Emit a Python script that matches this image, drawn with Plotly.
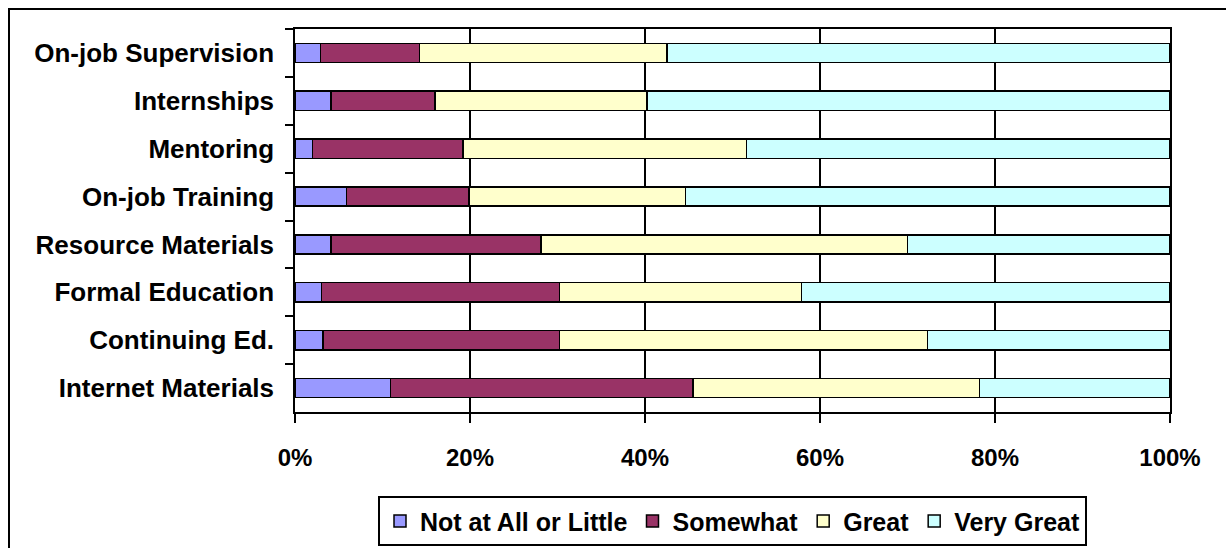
import plotly.graph_objects as go

categories = ["On-job Supervision", "Internships", "Mentoring", "On-job Training",
              "Resource Materials", "Formal Education", "Continuing Ed.", "Internet Materials"]
not_at_all = [2.9, 4.1, 2.0, 5.9, 4.1, 3.0, 3.2, 10.9]
somewhat = [11.3, 11.9, 17.2, 14.0, 24.0, 27.2, 27.0, 34.6]
great = [28.3, 24.2, 32.4, 24.7, 41.9, 27.7, 42.1, 32.7]
very_great = [57.5, 59.8, 48.4, 55.4, 30.0, 42.1, 27.7, 21.8]
series_names = ["Not at All or Little", "Somewhat", "Great", "Very Great"]
series_colors = ["#9999FF", "#993366", "#FFFFCC", "#CCFFFF"]
tick_vals = [0, 20, 40, 60, 80, 100]
tick_text = ["0%", "20%", "40%", "60%", "80%", "100%"]

FONT = "Liberation Sans, Arial, sans-serif"

fig = go.Figure()
for name, vals, col in zip(series_names, [not_at_all, somewhat, great, very_great], series_colors):
    fig.add_trace(go.Bar(
        y=categories, x=vals, name=name, orientation="h",
        marker=dict(color=col, line=dict(color="black", width=1.5)),
    ))

def px2x(px):
    return (px - 295) / 875.0

def px2y(py):
    return (412.5 - py) / 383.5

fig.update_layout(
    width=1226, height=548,
    barmode="stack", bargap=0.6,
    paper_bgcolor="white", plot_bgcolor="white",
    margin=dict(l=295, r=56, t=29, b=135.5, autoexpand=False),
    font=dict(family=FONT, size=24, color="black", weight="bold"),
    xaxis=dict(
        range=[0, 100], tickvals=tick_vals, ticktext=tick_text,
        showgrid=True, gridcolor="black", gridwidth=1.5,
        showline=True, linecolor="black", linewidth=1.5, mirror=True,
        ticks="outside", ticklen=9, tickwidth=1.5, tickcolor="black",
        ticklabelstandoff=14, zeroline=False,
        tickfont=dict(family=FONT, size=24, color="black", weight="bold"),
    ),
    yaxis=dict(
        categoryorder="array", categoryarray=categories, autorange="reversed",
        showgrid=False, showline=True, linecolor="black", linewidth=1.5, mirror=True,
        ticks="outside", ticklen=8, tickwidth=1.5, tickcolor="black",
        tickson="boundaries", ticklabelstandoff=14,
        tickfont=dict(family=FONT, size=26, color="black", weight="bold"),
    ),
    legend=dict(
        orientation="h", x=0.5, xanchor="center", y=-0.22, yanchor="top",
        bordercolor="black", borderwidth=2, bgcolor="white",
        font=dict(family=FONT, size=25, color="black", weight="bold"),
        traceorder="normal", itemclick=False,
    ),
    shapes=[dict(type="rect", xref="paper", yref="paper",
                 x0=px2x(9), x1=1.3, y0=-0.6, y1=px2y(9),
                 line=dict(color="black", width=2), layer="below")],
    showlegend=True,
)

fig.write_html("out.html")
